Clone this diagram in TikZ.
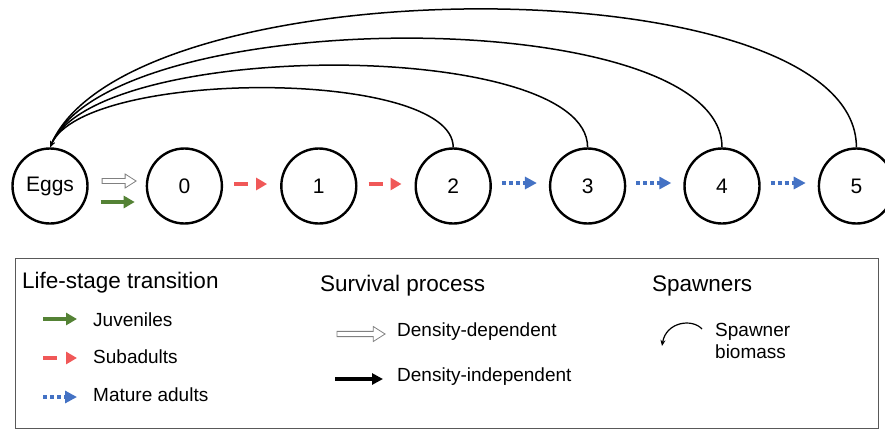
\documentclass[tikz,border=0pt]{standalone}
\usepackage{fontspec}
\setmainfont{Liberation Sans}
\usetikzlibrary{positioning}
\usetikzlibrary{calc}
\usetikzlibrary{arrows.meta}
\usetikzlibrary{shapes.arrows}

\definecolor{juvgreen}{RGB}{84,130,53}
\definecolor{subred}{RGB}{240,88,88}
\definecolor{matblue}{RGB}{68,114,196}

\begin{document}
\begin{tikzpicture}[x=1pt,y=-1pt,
  stage/.style={circle,draw,line width=2.4pt,minimum size=75pt,inner sep=0pt,
    font=\fontsize{21}{25}\selectfont},
  spawn/.style={line width=1.5pt,-{Stealth[length=6pt,width=5pt]}},
  juvenile/.style={juvgreen,line width=3.6pt,-{Triangle[length=11pt,width=12pt]}},
  subadult/.style={subred,line width=3.6pt,dash pattern=on 14pt off 10pt,
    -{Triangle[length=11pt,width=12pt]}},
  mature/.style={matblue,line width=3.6pt,dash pattern=on 4pt off 3pt,
    -{Triangle[length=12pt,width=12pt]}},
  indep/.style={black,line width=3.6pt,-{Triangle[length=11pt,width=11pt]}},
  hollowarrow/.style={single arrow,draw=gray,fill=white,line width=0.8pt,
    inner sep=2pt,minimum width=14pt,single arrow head extend=4.5pt,
    single arrow tip angle=65},
  legendtitle/.style={anchor=west,inner sep=0pt,font=\fontsize{22.5}{26}\selectfont},
  legenditem/.style={anchor=west,inner sep=0pt,align=left,
    font=\fontsize{19}{22}\selectfont}]

  \useasboundingbox (0,0) rectangle (885,429);

  % life stages
  \node[stage] (eggs) at (50,186) {Eggs};
  \node[stage, right=57pt of eggs] (n0) {0};
  \foreach \i [remember=\i as \j (initially 0)] in {1,...,5}
    \node[stage, right=57pt of n\j] (n\i) {\i};

  % transitions
  \node[hollowarrow, minimum height=34pt] (ddeggs)
    at ($(eggs.east)!0.5!(n0.west)+(0,-5)$) {};
  \draw[juvenile] ($(eggs.east)+(12,16)$) -- ($(n0.west)+(-11,16)$);
  \foreach \i/\j in {0/1,1/2}
    \draw[subadult] ($(n\i.east)+(11,-2)$) -- ($(n\j.west)+(-13,-2)$);
  \foreach \i/\j in {2/3,3/4,4/5}
    \draw[mature] ($(n\i.east)+(10,-3)$) -- ($(n\j.west)+(-12,-3)$);

  % spawner biomass back to eggs
  \foreach \k/\h/\d in {2/79/35,3/109/48,4/145/63,5/184/80}
    \draw[spawn] (n\k.north) .. controls +(0,-\h) and +(\d,-\h) .. (eggs.north);

  % legend
  \draw[gray!70!black,line width=0.9pt] (15,258) rectangle (878,428);

  \node[legendtitle] (lst) at (22,283) {Life-stage transition};
  \coordinate (j1) at (43,319);
  \coordinate (j2) at (77,319);
  \draw[juvenile] (j1) -- (j2);
  \node[legenditem] (juv) at (93,320) {Juveniles};
  \coordinate (s1) at (43,358);
  \coordinate (s2) at (77,358);
  \draw[subadult] (s1) -- (s2);
  \node[legenditem] (sub) at (93,357) {Subadults};
  \coordinate (m1) at (43,397);
  \coordinate (m2) at (77,397);
  \draw[mature] (m1) -- (m2);
  \node[legenditem] (mat) at (93,395) {Mature adults};

  \node[legendtitle] (srv) at (320,286) {Survival process};
  \node[hollowarrow, minimum height=48pt, minimum width=15pt] (ddleg) at (359,334) {};
  \node[legenditem] (dd) at (397,332) {Density-dependent};
  \coordinate (i1) at (335,379);
  \coordinate (i2) at (383,379);
  \draw[indep] (i1) -- (i2);
  \node[legenditem] (di) at (397,377) {Density-independent};

  \node[legendtitle] (spw) at (652,286) {Spawners};
  \coordinate (b1) at (702,329);
  \coordinate (b2) at (662,346);
  \draw[spawn,line width=1.2pt] (b1) .. controls (692,318) and (666,322) .. (b2);
  \node[legenditem] (sbm) at (715,341) {Spawner\\biomass};
\end{tikzpicture}
\end{document}
